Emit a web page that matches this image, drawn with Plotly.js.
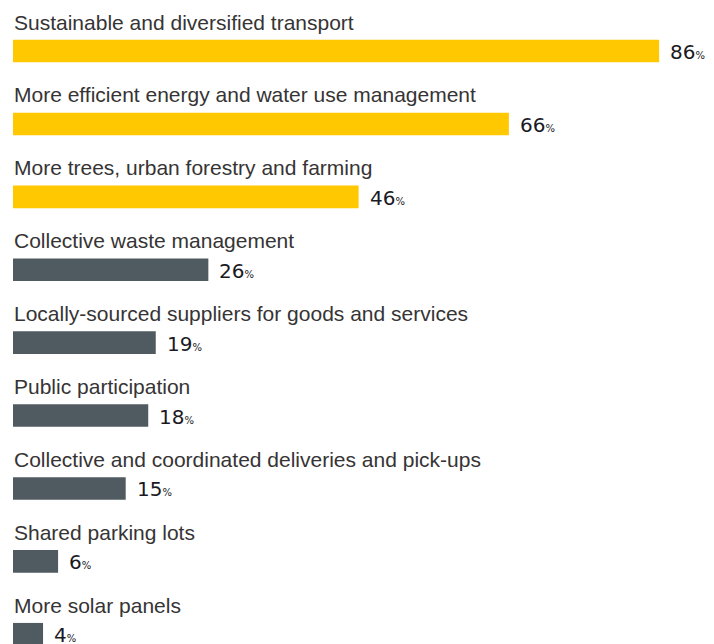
<!DOCTYPE html>
<html>
<head>
<meta charset="utf-8">
<script src="https://cdn.plot.ly/plotly-3.0.1.min.js"></script>
<style>html,body{margin:0;padding:0;background:#fff;}#chart{width:714px;height:644px;}</style>
</head>
<body>
<div id="chart"></div>
<script>
const categories = [
  "Sustainable and diversified transport",
  "More efficient energy and water use management",
  "More trees, urban forestry and farming",
  "Collective waste management",
  "Locally-sourced suppliers for goods and services",
  "Public participation",
  "Collective and coordinated deliveries and pick-ups",
  "Shared parking lots",
  "More solar panels"
];
const values = [86, 66, 46, 26, 19, 18, 15, 6, 4];
const highlightCount = 3;

const YELLOW = "#FFC800";
const GREY = "#505B61";
const colors = values.map((v, i) => i < highlightCount ? YELLOW : GREY);
const idx = categories.map((c, i) => i);

const trace = {
  type: "bar",
  orientation: "h",
  x: values,
  y: idx,
  width: 0.31,
  marker: {color: colors, line: {width: 0}},
  hoverinfo: "none"
};

const annotations = [];
categories.forEach((c, i) => {
  annotations.push({
    xref: "x", yref: "y", x: 0, y: i,
    text: c, showarrow: false,
    xanchor: "left", yanchor: "middle",
    xshift: -1, yshift: 29,
    font: {family: "Liberation Sans, Arial, sans-serif", size: 21, color: "#363434"}
  });
  annotations.push({
    xref: "x", yref: "y", x: values[i], y: i,
    text: values[i] + '<span style="font-size:10px">%</span>',
    showarrow: false,
    xanchor: "left", yanchor: "middle",
    xshift: 9, yshift: -1,
    font: {family: "DejaVu Sans, sans-serif", size: 20, color: "#1a1a24"}
  });
});

const layout = {
  width: 714, height: 644,
  margin: {l: 13, r: 0, t: 0, b: 0},
  paper_bgcolor: "#fff", plot_bgcolor: "#fff",
  showlegend: false,
  xaxis: {range: [0, 93.3], visible: false, fixedrange: true},
  yaxis: {range: [8.134, -0.70], visible: false, fixedrange: true},
  annotations: annotations
};

Plotly.newPlot("chart", [trace], layout, {displayModeBar: false, staticPlot: true});
</script>
</body>
</html>
